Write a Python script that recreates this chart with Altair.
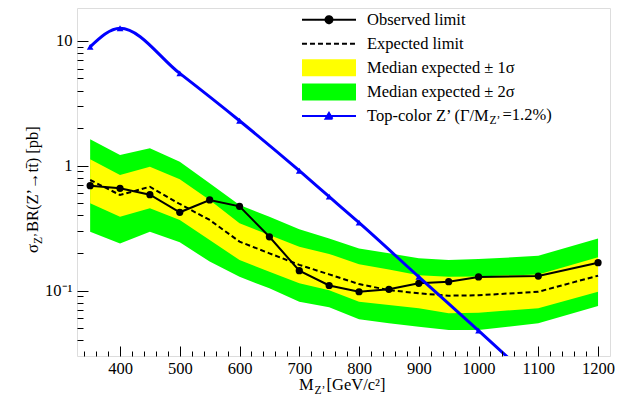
import altair as alt
import pandas as pd

# ---------------- data ----------------
mass = [350, 400, 450, 500, 550, 600, 650, 700, 750, 800, 850, 900, 950, 1000, 1100, 1200]
observed = [0.692, 0.659, 0.586, 0.424, 0.532, 0.473, 0.270, 0.1445, 0.110, 0.098,
            0.1026, 0.1146, 0.118, 0.1287, 0.131, 0.1675]
expected = [0.769, 0.583, 0.679, 0.494, 0.368, 0.247, 0.199, 0.161, 0.135, 0.113,
            0.101, 0.0953, 0.0912, 0.0919, 0.098, 0.1318]
sig1_hi = [1.125, 0.843, 0.982, 0.778, 0.532, 0.346, 0.279, 0.225, 0.197, 0.163,
           0.148, 0.133, 0.129, 0.130, 0.135, 0.185]
sig1_lo = [0.500, 0.391, 0.456, 0.368, 0.254, 0.176, 0.142, 0.1146, 0.101, 0.0817,
           0.0769, 0.0723, 0.066, 0.0667, 0.0723, 0.098]
sig2_hi = [1.626, 1.219, 1.377, 1.076, 0.723, 0.485, 0.391, 0.310, 0.262, 0.218,
           0.199, 0.182, 0.176, 0.179, 0.190, 0.262]
sig2_lo = [0.296, 0.239, 0.296, 0.244, 0.171, 0.129, 0.1045, 0.0817, 0.0736, 0.059,
           0.0548, 0.0515, 0.0485, 0.0485, 0.0548, 0.0755]

zp_mass = [350, 400, 500, 600, 700, 750, 800, 900, 1000, 1100]
zp_xsec = [8.95, 12.6, 5.48, 2.29, 0.912, 0.565, 0.35, 0.129, 0.0479, 0.0175]

legend_labels = ["Observed limit", "Expected limit", "Median expected \u00b1 1\u03c3",
                 "Median expected \u00b1 2\u03c3", "Top-color Z\u2019 (\u0393/M"]
legend_colors = ["#000000", "#000000", "#ffff00", "#00ff00", "#0000ff"]
# every legend glyph carries the same (invisible) vertical extent so that rows are even
_ext = "M0,-1.07M0,1.07"
legend_shapes = [
    _ext + "M-3.86,0L3.86,0M-0.5,0A0.5,0.5,0,1,1,0.5,0A0.5,0.5,0,1,1,-0.5,0Z",
    _ext + "M-3.86,0L3.86,0",
    _ext + "M-3.71,-1.07L3.71,-1.07L3.71,1.07L-3.71,1.07Z",
    _ext + "M-3.71,-1.07L3.71,-1.07L3.71,1.07L-3.71,1.07Z",
    _ext + "M-3.86,0L3.86,0M-0.5,0.4L0.5,0.4L0,-0.45Z",
]
legend_dashes = [[1, 0], [5, 3], [1, 0], [1, 0], [1, 0]]

x_major = [400, 500, 600, 700, 800, 900, 1000, 1100, 1200]
x_minor = [v for v in range(340, 1220, 20) if v % 100]
y_major = [0.1, 1, 10]
y_minor = [round(m * d, 3) for d in (0.01, 0.1, 1) for m in range(2, 10) if m * d > 0.031]

x_title = ["M", "Z\u2019", " [GeV/c\u00b2]"]
y_title = ["\u03c3", "Z\u2019", " BR(Z\u2019\u2192tt\u0304) [pb]"]
zp_label_tail = ["Z\u2019", "=1.2%)"]

FONT = "Liberation Serif"
FS = 16.5
SUB = 11.5

df = pd.DataFrame({"mass": mass, "obs": observed, "exp": expected,
                   "s1lo": sig1_lo, "s1hi": sig1_hi, "s2lo": sig2_lo, "s2hi": sig2_hi})
zdf = pd.DataFrame({"mass": zp_mass, "xsec": zp_xsec})
legdf = pd.DataFrame({"series": legend_labels})

xs = alt.Scale(domain=[328, 1220], nice=False, zero=False)
ys = alt.Scale(type="log", domain=[0.03, 18.3], nice=False)

x_axis = alt.Axis(values=x_major, orient="bottom", offset=-10, tickSize=10, domain=False,
                  grid=False, labelFont=FONT, labelFontSize=FS, labelColor="black",
                  tickColor="black", tickWidth=1, labelPadding=4, labelFlush=False,
                  labelOverlap=False, format="d", zindex=1)
y_axis = alt.Axis(values=y_major, orient="left", offset=-11, tickSize=11, domain=False,
                  grid=False, labelFont=FONT, labelFontSize=FS, labelColor="black",
                  tickColor="black", tickWidth=1, labelPadding=5, labelFlush=False,
                  labelOverlap=False, zindex=1,
                  labelExpr="datum.value < 0.5 ? '10\u207b\u00b9' : (datum.value < 5 ? '1' : '10')")
x_axis_minor = alt.Axis(values=x_minor, orient="bottom", offset=-5, tickSize=5, domain=False,
                        grid=False, labels=False, tickColor="black", tickWidth=1, zindex=1)
y_axis_minor = alt.Axis(values=y_minor, orient="left", offset=-6, tickSize=6, domain=False,
                        grid=False, labels=False, tickColor="black", tickWidth=1, zindex=1)

X = alt.X("mass:Q", scale=xs, axis=x_axis, title=None)


def Y(field):
    return alt.Y(f"{field}:Q", scale=ys, axis=y_axis, title=None)


green = alt.Chart(df).mark_area(color="#00ff00", opacity=1).encode(
    x=X, y=Y("s2lo"), y2="s2hi:Q")
yellow = alt.Chart(df).mark_area(color="#ffff00", opacity=1).encode(
    x=X, y=Y("s1lo"), y2="s1hi:Q")
exp_line = alt.Chart(df).mark_line(color="black", strokeWidth=2, strokeDash=[5, 3]).encode(
    x=X, y=Y("exp"))
obs_line = alt.Chart(df).mark_line(color="black", strokeWidth=2).encode(x=X, y=Y("obs"))
obs_pts = alt.Chart(df).mark_point(shape="circle", filled=True, size=52, color="black",
                                   opacity=1).encode(x=X, y=Y("obs"))
zp_line = alt.Chart(zdf).mark_line(color="#0000ff", strokeWidth=3, interpolate="monotone",
                                   clip=True).encode(x=X, y=Y("xsec"))
zp_pts = alt.Chart(zdf).mark_point(shape="triangle-up", filled=True, size=45, color="#0000ff",
                                   opacity=1, clip=True).encode(x=X, y=Y("xsec"))

leg = alt.Legend(title=None, orient="none", legendX=243.75, legendY=3.4, symbolSize=196,
                 symbolStrokeWidth=2, symbolOpacity=1, labelFont=FONT, labelFontSize=FS,
                 labelColor="black", labelOffset=29.75, rowPadding=0.1, padding=0, labelLimit=400)
legend_layer = alt.Chart(legdf).mark_point(filled=True, opacity=0).encode(
    x=alt.value(0), y=alt.value(0),
    fill=alt.Fill("series:N", scale=alt.Scale(domain=legend_labels, range=legend_colors), legend=leg),
    stroke=alt.Stroke("series:N", scale=alt.Scale(domain=legend_labels, range=legend_colors), legend=leg),
    shape=alt.Shape("series:N", scale=alt.Scale(domain=legend_labels, range=legend_shapes), legend=leg),
    strokeDash=alt.StrokeDash("series:N", scale=alt.Scale(domain=legend_labels, range=legend_dashes), legend=leg),
)


def txt(s, x, y, size=FS, angle=0):
    return alt.Chart(pd.DataFrame({"t": [s]})).mark_text(
        font=FONT, fontSize=size, color="black", align="left", baseline="alphabetic",
        angle=angle).encode(text="t:N", x=alt.value(x), y=alt.value(y))


texts = [
    txt(x_title[0], 222, 382),
    txt(x_title[1], 237.5, 386, SUB),
    txt(x_title[2], 249.5, 382),
    txt(y_title[0], -39.5, 245, angle=270),
    txt(y_title[1], -35.5, 235.9, SUB, angle=270),
    txt(y_title[2], -39.5, 224, angle=270),
    txt(zp_label_tail[0], 412.5, 115.5, SUB),
    txt(zp_label_tail[1], 425.5, 111.5),
]

main = alt.layer(green, yellow, exp_line, obs_line, obs_pts, zp_line, zp_pts, legend_layer, *texts)

minor = alt.Chart(df).mark_point(opacity=0).encode(
    x=alt.X("mass:Q", scale=xs, axis=x_axis_minor, title=None),
    y=alt.Y("obs:Q", scale=ys, axis=y_axis_minor, title=None),
)

chart = alt.layer(main, minor).resolve_scale(x="independent", y="independent").properties(
    width=533, height=348,
    autosize=alt.AutoSizeParams(type="none"),
    padding={"left": 69, "top": 0, "right": 18, "bottom": 41},
).configure_view(stroke="black", strokeWidth=1.5).configure(font=FONT)

chart.save("out.html", embed_options={"renderer": "svg", "actions": False})
